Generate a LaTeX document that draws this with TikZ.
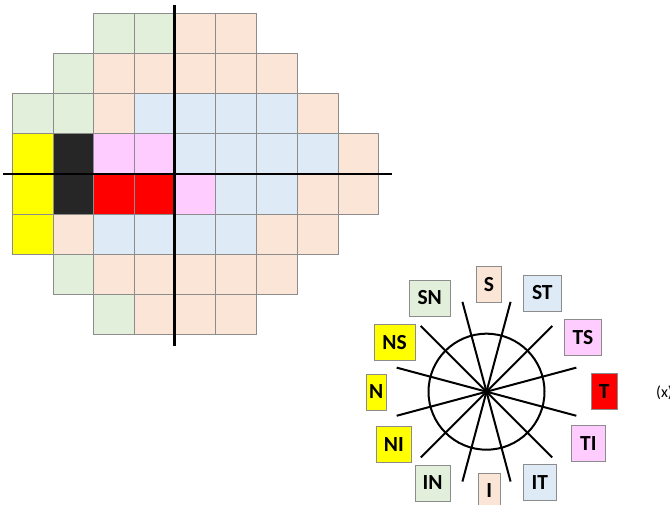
\documentclass[tikz,border=0pt]{standalone}
\usepackage{fontspec}
\setmainfont{Carlito}
\definecolor{cgreen}{HTML}{E2EFDA}
\definecolor{cpeach}{HTML}{FBE5D6}
\definecolor{cblue}{HTML}{DEEBF7}
\definecolor{cpink}{HTML}{FFCCFF}
\definecolor{cyellow}{HTML}{FFFF00}
\definecolor{cblack}{HTML}{262626}
\definecolor{cred}{HTML}{FF0000}
\definecolor{gridgray}{HTML}{8C8C8C}
\begin{document}
\begin{tikzpicture}[x=1pt,y=-1pt,
  cellbox/.style={draw=gridgray, line width=0.8pt},
  axisline/.style={line width=2.8pt, black},
  spoke/.style={line width=2pt, black},
  lab/.style={draw=gridgray, line width=0.8pt, inner sep=0pt, minimum height=36pt,
    font=\fontsize{21.5}{25}\selectfont\bfseries, text=black}]
\useasboundingbox (0,0) rectangle (670,505);
% grid
\foreach \r/\c/\col in {
  0/2/cgreen,0/3/cgreen,0/4/cpeach,0/5/cpeach,
  1/1/cgreen,1/2/cpeach,1/3/cpeach,1/4/cpeach,1/5/cpeach,1/6/cpeach,
  2/0/cgreen,2/1/cgreen,2/2/cpeach,2/3/cblue,2/4/cblue,2/5/cblue,2/6/cblue,2/7/cpeach,
  3/0/cyellow,3/1/cblack,3/2/cpink,3/3/cpink,3/4/cblue,3/5/cblue,3/6/cblue,3/7/cblue,3/8/cpeach,
  4/0/cyellow,4/1/cblack,4/2/cred,4/3/cred,4/4/cpink,4/5/cblue,4/6/cblue,4/7/cpeach,4/8/cpeach,
  5/0/cyellow,5/1/cpeach,5/2/cblue,5/3/cblue,5/4/cblue,5/5/cblue,5/6/cpeach,5/7/cpeach,
  6/1/cgreen,6/2/cpeach,6/3/cpeach,6/4/cpeach,6/5/cpeach,6/6/cpeach,
  7/2/cgreen,7/3/cpeach,7/4/cpeach,7/5/cpeach}
  \filldraw[cellbox, fill=\col] ({12.3+\c*40.7},{13.3+\r*40.2}) rectangle ++(40.7,40.2);
% axes
\coordinate (vt) at (174.7,4.7);
\coordinate (vb) at (174.7,345.7);
\coordinate (hl) at (3,174);
\coordinate (hr) at (392,174);
\draw[axisline] (vt) -- (vb);
\draw[axisline] (hl) -- (hr);
% clock
\coordinate (cc) at (486.5,391.7);
\draw[spoke] (cc) circle[radius=58];
\foreach \a in {15,45,...,345} \draw[spoke] (cc) -- ++(\a:93);
% labels
\node[lab, fill=cpeach, minimum width=25pt] (S) at (489,284.7) {S};
\node[lab, fill=cblue, minimum width=38pt] (ST) at (542.3,293) {ST};
\node[lab, fill=cpink, minimum width=37.7pt] (TS) at (583,337.5) {TS};
\node[lab, fill=cred, minimum width=25.6pt] (T) at (604.3,391.7) {T};
\node[lab, fill=cpink, minimum width=33.3pt] (TI) at (588.3,443.7) {TI};
\node[lab, fill=cblue, minimum width=32.7pt] (IT) at (539.7,482.3) {IT};
\node[lab, fill=cpeach, minimum width=21.7pt] (I) at (489.2,491) {I};
\node[lab, fill=cgreen, minimum width=35pt] (IN) at (432.5,483) {IN};
\node[lab, fill=cyellow, minimum width=35.7pt] (NI) at (393.8,444.5) {NI};
\node[lab, fill=cyellow, minimum width=20.7pt] (N) at (376.3,392) {N};
\node[lab, fill=cyellow, minimum width=41pt] (NS) at (394.5,342.5) {NS};
\node[lab, fill=cgreen, minimum width=40.7pt] (SN) at (429.7,298) {SN};
\node[anchor=west, inner sep=0pt, font=\fontsize{16}{19}\selectfont] (xl) at (656,392.7) {(x)};
\end{tikzpicture}
\end{document}
